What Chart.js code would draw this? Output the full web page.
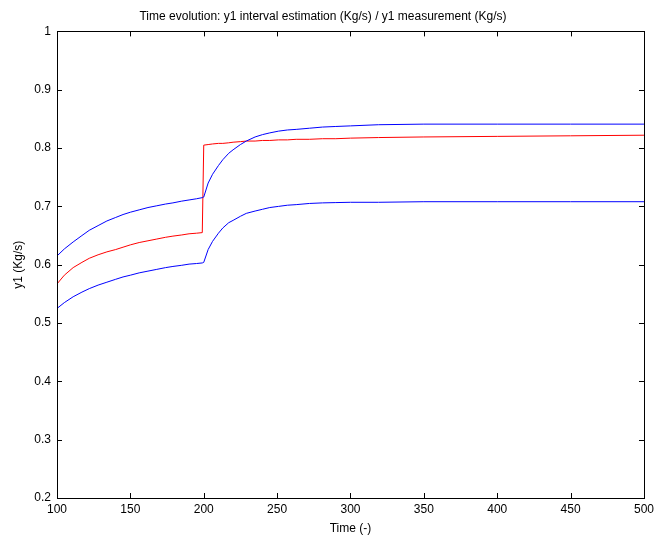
<!DOCTYPE html>
<html><head><meta charset="utf-8">
<script src="https://cdn.jsdelivr.net/npm/chart.js@4/dist/chart.umd.min.js"></script>
<style>html,body{margin:0;padding:0;background:#fff}#wrap{width:658px;height:536px}</style>
</head><body><div id="wrap"><canvas id="c" width="658" height="536"></canvas></div>
<script>
const times = [100,105,111,117,122,128,134,140,145,150,156,162,168,174,179,185,190,195,199,200,203,206,210,213,217,220,225,229,235,240,245,251,257,263,272,281,290,300,319,350,400,450,500];
const upperBound = [0.615,0.627,0.639,0.650,0.659,0.667,0.675,0.681,0.686,0.690,0.694,0.698,0.701,0.704,0.706,0.709,0.711,0.713,0.715,0.716,0.740,0.755,0.770,0.780,0.791,0.797,0.806,0.812,0.819,0.823,0.826,0.829,0.831,0.832,0.834,0.836,0.837,0.838,0.840,0.841,0.841,0.841,0.841];
const measurement = [0.567,0.582,0.595,0.604,0.611,0.617,0.622,0.626,0.630,0.634,0.638,0.641,0.644,0.647,0.649,0.651,0.653,0.654,0.655,0.805,0.806,0.807,0.808,0.808,0.809,0.810,0.811,0.812,0.812,0.813,0.813,0.814,0.814,0.815,0.815,0.816,0.816,0.817,0.818,0.819,0.820,0.821,0.822];
const lowerBound = [0.525,0.535,0.545,0.553,0.559,0.565,0.570,0.575,0.579,0.582,0.586,0.589,0.592,0.595,0.597,0.599,0.601,0.602,0.603,0.604,0.626,0.640,0.654,0.663,0.672,0.676,0.683,0.688,0.692,0.695,0.698,0.700,0.702,0.703,0.705,0.706,0.7065,0.707,0.707,0.708,0.708,0.708,0.708];
const xTicks = [100,150,200,250,300,350,400,450,500];
const yTicks = [0.2,0.3,0.4,0.5,0.6,0.7,0.8,0.9,1];

const pts = arr => arr.map((v,i)=>({x:times[i], y:v}));
const FONT = 'Liberation Sans, Arial, Helvetica, sans-serif';

const boxPlugin = {
  id:'box',
  afterDraw(chart){
    const {ctx, chartArea:a, scales:{x,y}} = chart;
    ctx.save();
    ctx.strokeStyle='#000'; ctx.lineWidth=1;
    const L=5;
    ctx.beginPath();
    xTicks.forEach(v=>{const px=Math.round(x.getPixelForValue(v))+0.5;
      ctx.moveTo(px,a.bottom); ctx.lineTo(px,a.bottom-L);
      ctx.moveTo(px,a.top); ctx.lineTo(px,a.top+L);});
    yTicks.forEach(v=>{const py=Math.round(y.getPixelForValue(v))+0.5;
      ctx.moveTo(a.left,py); ctx.lineTo(a.left+L,py);
      ctx.moveTo(a.right,py); ctx.lineTo(a.right-L,py);});
    ctx.stroke();
    ctx.strokeRect(Math.round(a.left)+0.5, Math.round(a.top)+0.5, Math.round(a.right-a.left), Math.round(a.bottom-a.top));
    ctx.restore();
  }
};

new Chart(document.getElementById('c'), {
  type:'line',
  data:{datasets:[
    {label:'upper', data:pts(upperBound), borderColor:'#0000ff', borderWidth:1, pointRadius:0, tension:0, fill:false},
    {label:'measurement', data:pts(measurement), borderColor:'#ff0000', borderWidth:1, pointRadius:0, tension:0, fill:false},
    {label:'lower', data:pts(lowerBound), borderColor:'#0000ff', borderWidth:1, pointRadius:0, tension:0, fill:false}
  ]},
  options:{
    responsive:false, animation:false, devicePixelRatio:1,
    layout:{padding:{left:0,right:12,top:0,bottom:0}},
    plugins:{
      legend:{display:false}, tooltip:{enabled:false},
      title:{display:true, text:'Time evolution: y1 interval estimation (Kg/s) / y1 measurement (Kg/s)', color:'#000',
        font:{family:FONT, size:12, weight:'normal'}, padding:{top:9,bottom:8}}
    },
    scales:{
      x:{type:'linear', min:100, max:500,
        afterBuildTicks(s){s.ticks = xTicks.map(v=>({value:v}));},
        afterFit(s){s.height=38;},
        grid:{display:false, drawTicks:false},
        border:{display:true,color:'#000'},
        ticks:{color:'#000', padding:4, maxRotation:0, autoSkip:false, font:{family:FONT,size:12}},
        title:{display:true, text:'Time (-)', color:'#000', font:{family:FONT,size:12}, padding:{top:2,bottom:0}}
      },
      y:{type:'linear', min:0.2, max:1,
        afterBuildTicks(s){s.ticks = yTicks.map(v=>({value:v}));},
        afterFit(s){s.width=57;},
        grid:{display:false, drawTicks:false},
        border:{display:true,color:'#000'},
        ticks:{color:'#000', padding:6, autoSkip:false, font:{family:FONT,size:12}, callback:v=>String(Math.round(v*10)/10)},
        title:{display:true, text:'y1 (Kg/s)', color:'#000', font:{family:FONT,size:12}, padding:{top:11,bottom:0}}
      }
    }
  },
  plugins:[boxPlugin]
});
</script></body></html>
